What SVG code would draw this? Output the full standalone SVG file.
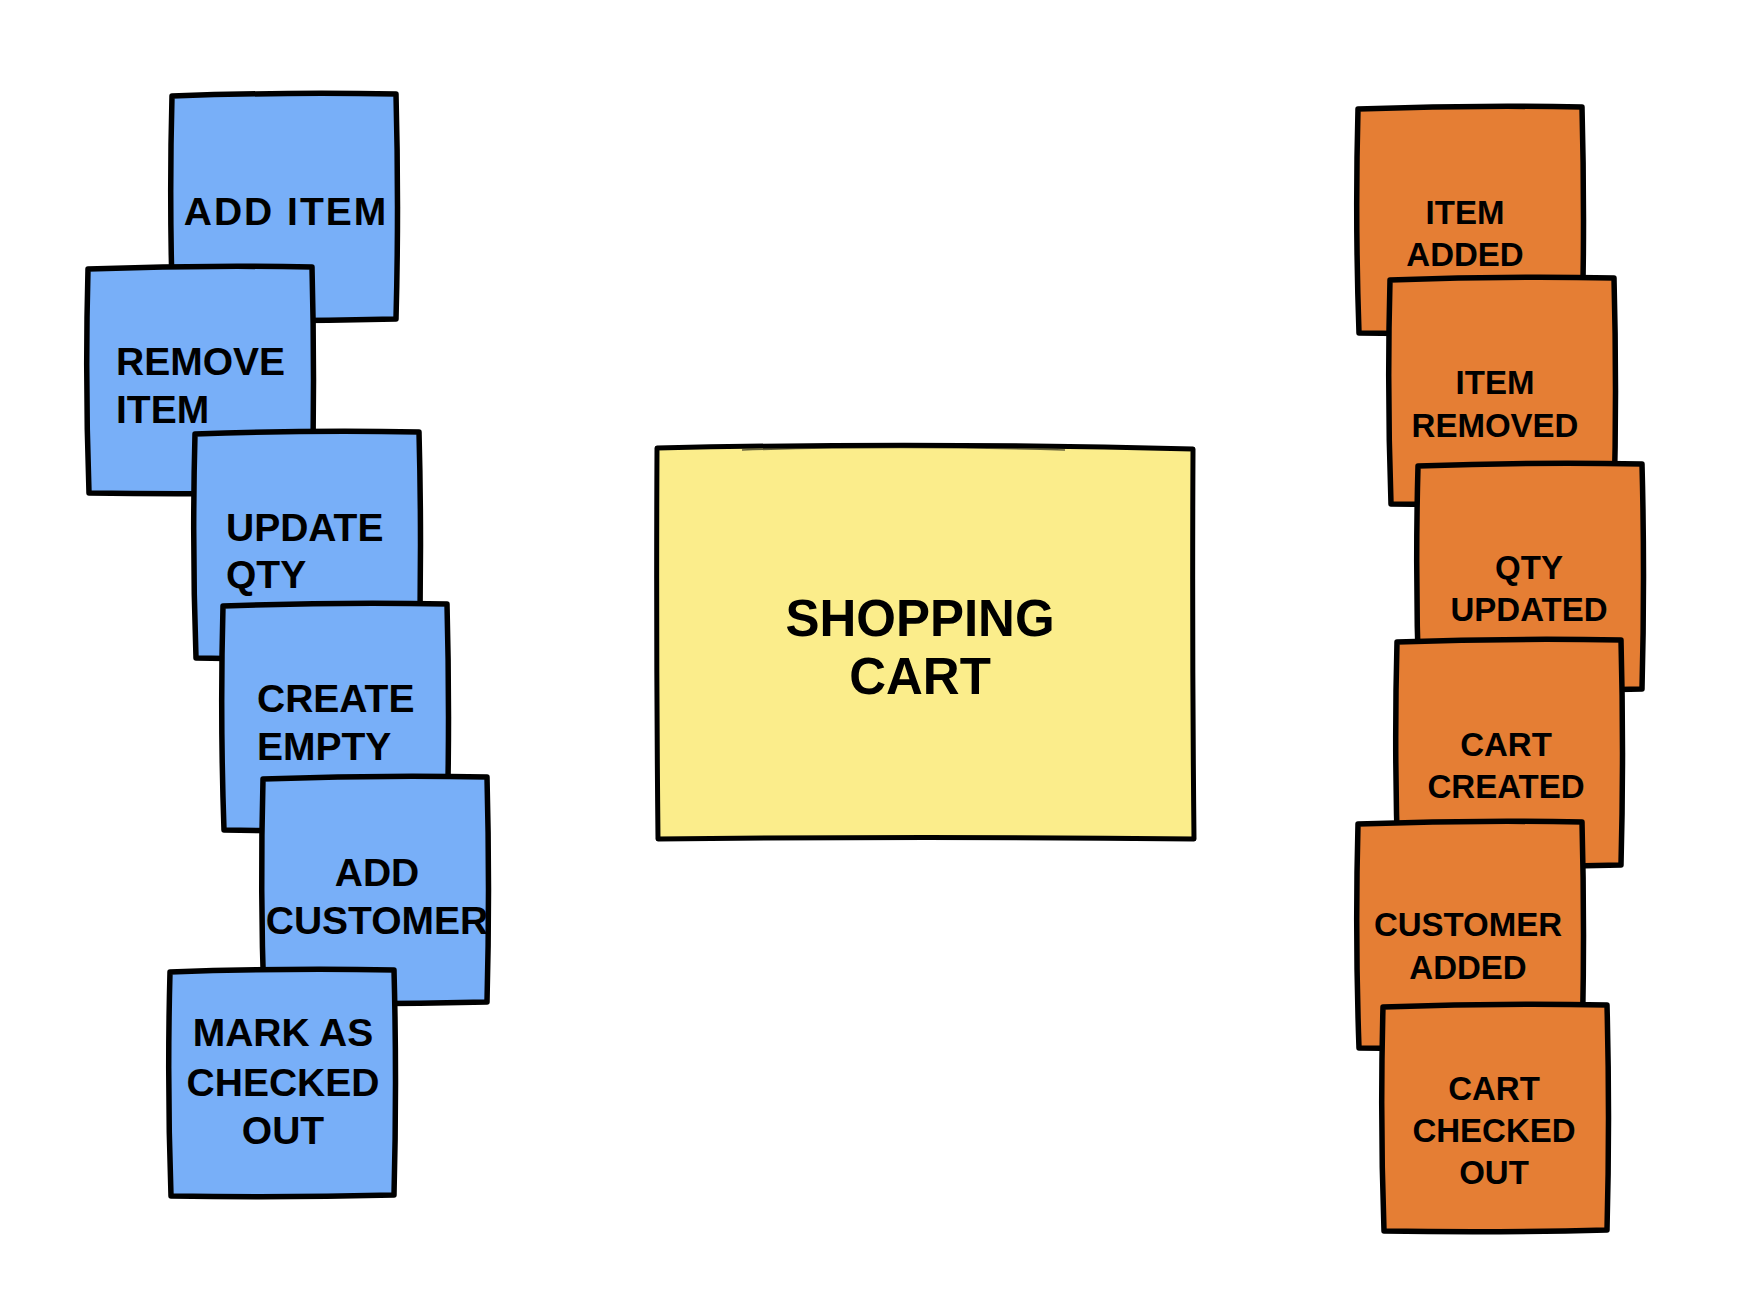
<svg xmlns="http://www.w3.org/2000/svg" width="1764" height="1290" viewBox="0 0 1764 1290">
<style>
.blue{fill:#78aff8;stroke:#000;stroke-width:5.5;stroke-linejoin:round}
.orange{fill:#e57e34;stroke:#000;stroke-width:5.5;stroke-linejoin:round}
.yellow{fill:#fbed8b;stroke:#000;stroke-width:5;stroke-linejoin:round}
text{font-family:"Liberation Sans",Arial,sans-serif;font-weight:700;fill:#000}
.t1{font-size:39px}
.t2{font-size:33px}
.t3{font-size:51px}
.c{text-anchor:middle}
</style>
<defs>
<path id="note" d="M2,3 Q114,-1 226,1 Q229,114 226,226 Q114,229 3,227 Q-1,114 2,3 Z"/>
</defs>
<rect width="1764" height="1290" fill="#fff"/>
<g id="connectors"/>
<g id="cmd-add-item">
<use href="#note" class="blue" x="170" y="93"/>
<text class="t1 c" x="286" y="225" letter-spacing="2">ADD ITEM</text>
</g>
<g id="cmd-remove-item">
<use href="#note" class="blue" x="86" y="266"/>
<text class="t1" x="116" y="375">REMOVE</text>
<text class="t1" x="116" y="423">ITEM</text>
</g>
<g id="cmd-update-qty">
<use href="#note" class="blue" x="193" y="431"/>
<text class="t1" x="226" y="541">UPDATE</text>
<text class="t1" x="226" y="588">QTY</text>
</g>
<g id="cmd-create-empty">
<use href="#note" class="blue" x="221" y="603"/>
<text class="t1" x="257" y="712">CREATE</text>
<text class="t1" x="257" y="760">EMPTY</text>
</g>
<g id="cmd-add-customer">
<use href="#note" class="blue" x="261" y="776"/>
<text class="t1 c" x="377" y="886">ADD</text>
<text class="t1 c" x="377" y="934">CUSTOMER</text>
</g>
<g id="cmd-mark-checked-out">
<use href="#note" class="blue" x="168" y="969"/>
<text class="t1 c" x="283" y="1046">MARK AS</text>
<text class="t1 c" x="283" y="1096">CHECKED</text>
<text class="t1 c" x="283" y="1144">OUT</text>
</g>
<g id="aggregate-shopping-cart">
<path class="yellow" d="M657,448 Q925,442 1193,449 Q1192,644 1194,839 Q925,836 658,839 Q656,644 657,448 Z"/>
<path d="M742,450 Q896,445 1065,450" fill="none" stroke="#000" stroke-width="1.5" opacity="0.6"/>
<text class="t3 c" x="920" y="636">SHOPPING</text>
<text class="t3 c" x="920" y="694">CART</text>
</g>
<g id="evt-item-added">
<use href="#note" class="orange" x="1356" y="106"/>
<text class="t2 c" x="1465" y="224">ITEM</text>
<text class="t2 c" x="1465" y="266">ADDED</text>
</g>
<g id="evt-item-removed">
<use href="#note" class="orange" x="1388" y="277"/>
<text class="t2 c" x="1495" y="394">ITEM</text>
<text class="t2 c" x="1495" y="437">REMOVED</text>
</g>
<g id="evt-qty-updated">
<use href="#note" class="orange" x="1416" y="463"/>
<text class="t2 c" x="1529" y="579">QTY</text>
<text class="t2 c" x="1529" y="621">UPDATED</text>
</g>
<g id="evt-cart-created">
<use href="#note" class="orange" x="1395" y="639"/>
<text class="t2 c" x="1506" y="756">CART</text>
<text class="t2 c" x="1506" y="798">CREATED</text>
</g>
<g id="evt-customer-added">
<use href="#note" class="orange" x="1356" y="821"/>
<text class="t2 c" x="1468" y="936">CUSTOMER</text>
<text class="t2 c" x="1468" y="979">ADDED</text>
</g>
<g id="evt-cart-checked-out">
<use href="#note" class="orange" x="1381" y="1004"/>
<text class="t2 c" x="1494" y="1100">CART</text>
<text class="t2 c" x="1494" y="1142">CHECKED</text>
<text class="t2 c" x="1494" y="1184">OUT</text>
</g>
</svg>
